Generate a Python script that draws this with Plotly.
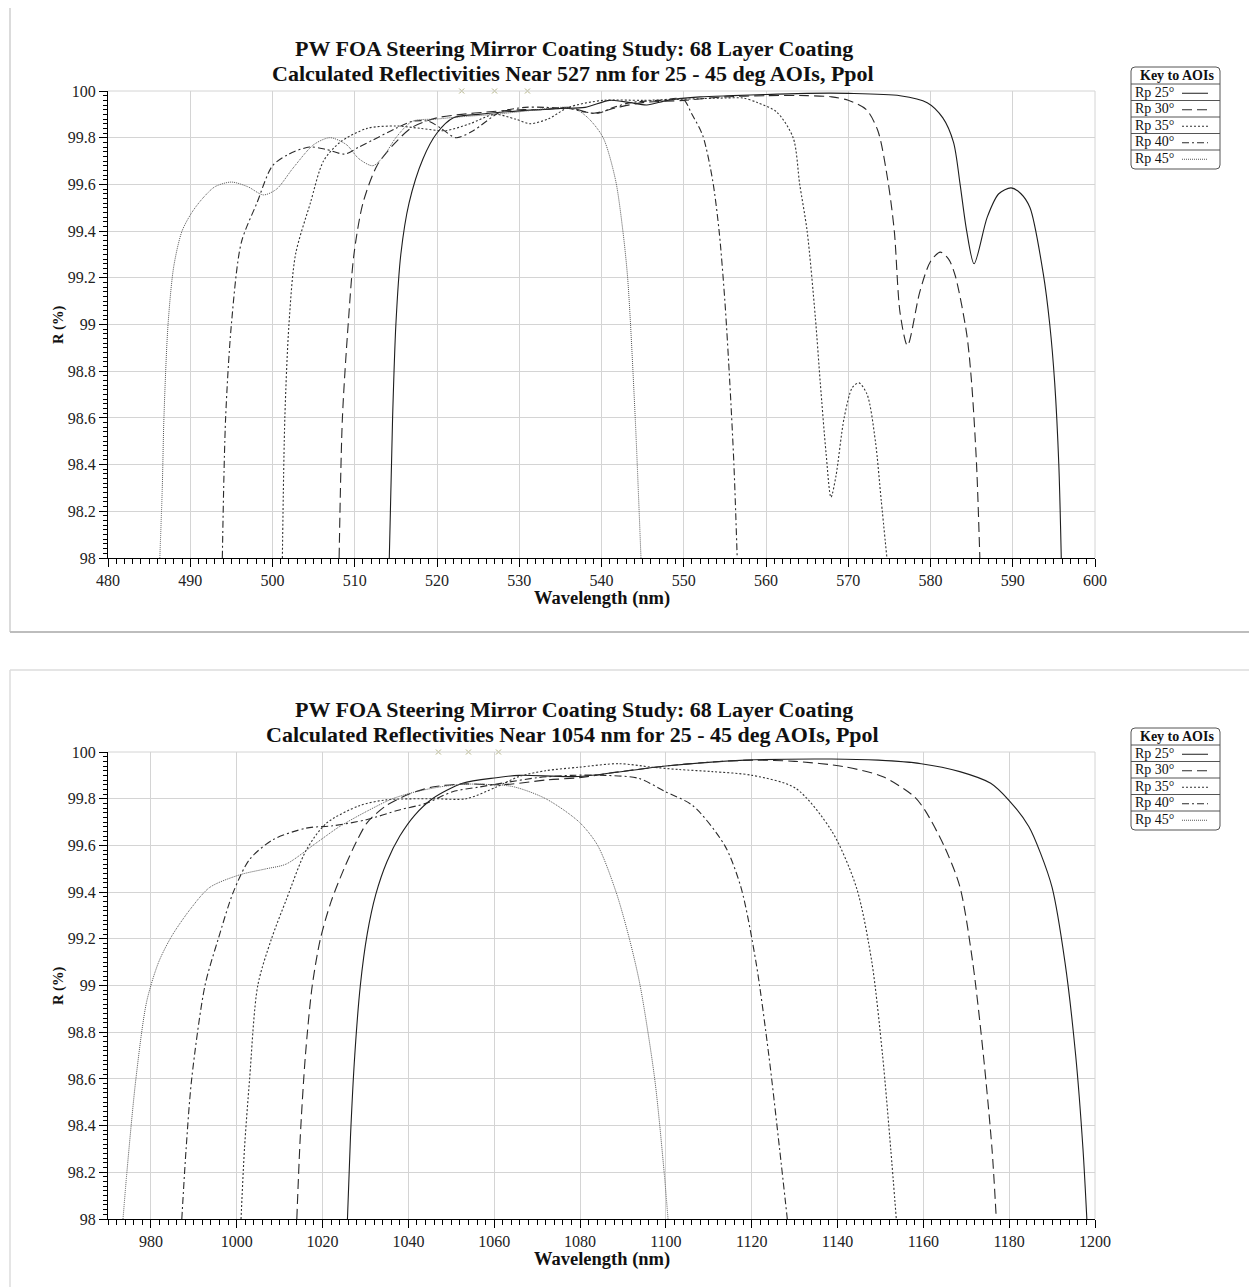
import plotly.graph_objects as go

# page body has an 8px margin; the figure is sized/offset so it lands on the 1257x1287 window
SHIFT = 8
W, H = 1257 - SHIFT, 1287 - SHIFT

# ---------------- data: 527 nm design (top) ----------------
top_wl_25 = [514.2, 514.6, 515.0, 515.6, 516.6, 518.3, 520.0, 522.0, 525, 530, 535, 538, 541, 543.5, 545.5, 548, 552, 556, 560, 565, 570, 576.3, 579.6, 581.5, 582.8, 583.6, 584.4, 585.3, 586.9, 588.3, 589.8, 591, 592.1, 593.7, 594.5, 595.1, 595.6, 595.9]
top_r_25 = [98.0, 98.6, 99.0, 99.3, 99.52, 99.71, 99.82, 99.885, 99.9, 99.915, 99.925, 99.93, 99.96, 99.95, 99.94, 99.96, 99.975, 99.98, 99.985, 99.99, 99.99, 99.98, 99.95, 99.885, 99.78, 99.60, 99.40, 99.26, 99.46, 99.56, 99.585, 99.56, 99.50, 99.22, 99.0, 98.75, 98.4, 98.0]

top_wl_30 = [508.1, 508.5, 509.2, 509.9, 511.0, 512.7, 514.7, 517, 520, 523, 526, 530, 533, 536, 539, 542, 545, 550, 555, 560, 565, 568, 570, 572.2, 573.6, 574.8, 575.6, 576.3, 577.2, 578.7, 580, 581.2, 582.2, 583, 584.4, 585, 585.6, 586]
top_r_30 = [98.0, 98.6, 99.0, 99.3, 99.52, 99.68, 99.77, 99.845, 99.885, 99.9, 99.91, 99.92, 99.92, 99.93, 99.905, 99.93, 99.95, 99.96, 99.975, 99.98, 99.98, 99.975, 99.96, 99.92, 99.83, 99.62, 99.40, 99.05, 98.91, 99.14, 99.27, 99.31, 99.28, 99.21, 98.96, 98.75, 98.4, 98.0]

top_wl_35 = [501.2, 501.5, 502.0, 502.8, 504.6, 506.2, 508.2, 511.5, 515, 518, 521, 524, 527, 529.5, 531.3, 533.5, 536, 540.2, 545, 550, 555, 557.2, 559, 561.3, 563.3, 564.1, 565, 566, 566.6, 567.3, 567.9, 568.5, 569.5, 570.5, 571.3, 572.3, 573.3, 574, 574.7]
top_r_35 = [98.0, 98.6, 99.0, 99.3, 99.52, 99.70, 99.78, 99.84, 99.85, 99.84, 99.83, 99.86, 99.90, 99.88, 99.86, 99.88, 99.93, 99.96, 99.96, 99.965, 99.97, 99.97, 99.95, 99.91, 99.80, 99.60, 99.40, 99.03, 98.75, 98.45, 98.26, 98.35, 98.6, 98.73, 98.75, 98.7, 98.5, 98.25, 98.0]

top_wl_40 = [493.9, 494.3, 495.0, 496.2, 498.1, 500, 502, 504.5, 506.5, 508.8, 510.5, 512.2, 515, 517, 519, 520.5, 522.3, 524.4, 527.7, 530.7, 533, 536, 538, 539.6, 541.5, 543.5, 547, 549.9, 551.0, 552.3, 553.5, 554.3, 555.0, 555.6, 556.1, 556.5]
top_r_40 = [98.0, 98.6, 99.0, 99.35, 99.52, 99.68, 99.73, 99.76, 99.75, 99.73, 99.76, 99.79, 99.84, 99.87, 99.87, 99.84, 99.80, 99.83, 99.91, 99.93, 99.93, 99.925, 99.91, 99.905, 99.93, 99.95, 99.96, 99.965, 99.90, 99.81, 99.62, 99.40, 99.10, 98.75, 98.4, 98.0]

top_wl_45 = [486.3, 486.6, 486.8, 487.3, 488.0, 489.0, 490.2, 491.5, 493, 495, 497, 498.9, 500.5, 502.5, 505, 507, 509, 510.5, 512.2, 513.5, 515, 517, 520, 523, 527, 531, 535.3, 537, 538.5, 540.2, 541.7, 542.6, 543.2, 544.1, 544.8]
top_r_45 = [98.0, 98.3, 98.6, 99.0, 99.25, 99.4, 99.48, 99.54, 99.59, 99.61, 99.59, 99.555, 99.58, 99.67, 99.77, 99.80, 99.77, 99.71, 99.68, 99.72, 99.8, 99.87, 99.88, 99.89, 99.9, 99.915, 99.93, 99.92, 99.88, 99.80, 99.62, 99.40, 99.19, 98.6, 98.0]

top_marks_wl = [523, 527, 531]

# ---------------- data: 1054 nm design (bottom) ----------------
bot_wl_25 = [1025.8, 1026.5, 1027.5, 1028.8, 1030.4, 1032.4, 1035.0, 1038.0, 1041.5, 1045.6, 1052.6, 1060.5, 1065.8, 1079.8, 1100, 1118.6, 1138.6, 1149.5, 1159.5, 1168.5, 1175.7, 1180.1, 1184.6, 1187.3, 1190, 1193, 1195.5, 1197.2, 1198.1]
bot_r_25 = [98.0, 98.35, 98.7, 99.0, 99.22, 99.39, 99.53, 99.64, 99.73, 99.80, 99.866, 99.89, 99.9, 99.895, 99.94, 99.965, 99.97, 99.965, 99.95, 99.916, 99.866, 99.79, 99.68, 99.567, 99.42, 99.1, 98.7, 98.3, 98.0]

bot_wl_30 = [1014.0, 1014.8, 1016.0, 1017.6, 1019.5, 1022.0, 1025.0, 1028.0, 1030.5, 1034.8, 1040.2, 1045.6, 1052.6, 1060.5, 1064.2, 1072, 1079.8, 1089, 1100, 1110.7, 1120, 1130, 1141.6, 1150.6, 1157.8, 1160.4, 1164.9, 1168.5, 1171.5, 1174, 1176, 1177]
bot_r_30 = [98.0, 98.35, 98.7, 99.0, 99.2, 99.36, 99.5, 99.62, 99.70, 99.77, 99.82, 99.85, 99.863, 99.86, 99.863, 99.88, 99.89, 99.915, 99.94, 99.957, 99.965, 99.96, 99.937, 99.894, 99.81, 99.75, 99.595, 99.424, 99.1, 98.7, 98.3, 98.0]

bot_wl_35 = [1001.0, 1001.8, 1003.0, 1004.9, 1008.1, 1011.6, 1016.2, 1020.9, 1028.6, 1034.8, 1045.6, 1053.5, 1060.5, 1065.8, 1072, 1079.8, 1089, 1096.8, 1103, 1110.8, 1120.1, 1130.2, 1138.7, 1144.4, 1148, 1150.5, 1152.4, 1153.7]
bot_r_35 = [98.0, 98.3, 98.6, 99.0, 99.2, 99.37, 99.58, 99.695, 99.77, 99.795, 99.80, 99.80, 99.85, 99.895, 99.92, 99.935, 99.95, 99.935, 99.925, 99.916, 99.90, 99.845, 99.66, 99.42, 99.1, 98.7, 98.3, 98.0]

bot_wl_40 = [987.2, 988.2, 989.5, 992.6, 995.7, 999.2, 1003.0, 1008.4, 1016.2, 1022.4, 1030.2, 1037.9, 1044.1, 1050.3, 1056.5, 1063, 1070, 1078, 1086, 1093.7, 1099.9, 1106.3, 1113.7, 1117.5, 1121, 1124, 1126.5, 1128.3]
bot_r_40 = [98.0, 98.3, 98.6, 99.0, 99.2, 99.40, 99.54, 99.624, 99.674, 99.684, 99.71, 99.752, 99.78, 99.83, 99.85, 99.87, 99.89, 99.9, 99.9, 99.887, 99.83, 99.77, 99.60, 99.42, 99.1, 98.7, 98.3, 98.0]

bot_wl_45 = [973.5, 974.4, 976.5, 979.0, 981.8, 984.8, 989.1, 993.7, 1000.7, 1006.9, 1011.5, 1018.5, 1023.9, 1030.2, 1036.3, 1041.8, 1047.2, 1052.6, 1056.5, 1064.3, 1072, 1079.8, 1084.1, 1088.4, 1091.5, 1094, 1097.4, 1099.6, 1100.5]
bot_r_45 = [98.0, 98.2, 98.6, 98.93, 99.1, 99.21, 99.325, 99.42, 99.474, 99.50, 99.52, 99.61, 99.68, 99.745, 99.80, 99.83, 99.85, 99.862, 99.862, 99.852, 99.80, 99.70, 99.60, 99.4, 99.2, 99.0, 98.6, 98.2, 98.0]

bot_marks_wl = [1047, 1054, 1061]

legend_labels = ["Rp 25\u00b0", "Rp 30\u00b0", "Rp 35\u00b0", "Rp 40\u00b0", "Rp 45\u00b0"]
titles_line1 = "PW FOA Steering Mirror Coating Study: 68 Layer Coating"
titles_line2 = ["Calculated Reflectivities Near 527 nm for 25 - 45 deg AOIs, Ppol",
                "Calculated Reflectivities Near 1054 nm for 25 - 45 deg AOIs, Ppol"]

# ---------------- styles ----------------
FONT = "Liberation Serif"
styles = [
    dict(color="#1e1e1e", dash="solid", width=1.1),
    dict(color="#2a2a2a", dash="10px,5px", width=1.1),
    dict(color="#333333", dash="2px,2px", width=1.1),
    dict(color="#2a2a2a", dash="7px,3px,2px,3px", width=1.1),
    dict(color="#555555", dash="1px,1px", width=1.0),
]


def px(x):
    return (x - SHIFT) / W


def py(y):
    return 1 - (y - SHIFT) / H


fig = go.Figure()

panels = [
    dict(series=[(top_wl_25, top_r_25), (top_wl_30, top_r_30), (top_wl_35, top_r_35), (top_wl_40, top_r_40), (top_wl_45, top_r_45)],
         marks=top_marks_wl, xr=[480, 600], dtick=10, tick0=480, minor=1, off=0, ax=""),
    dict(series=[(bot_wl_25, bot_r_25), (bot_wl_30, bot_r_30), (bot_wl_35, bot_r_35), (bot_wl_40, bot_r_40), (bot_wl_45, bot_r_45)],
         marks=bot_marks_wl, xr=[970, 1200], dtick=20, tick0=980, minor=2, off=661, ax="2"),
]

annotations = []
shapes = []


def txt(x, y, text, size, **kw):
    d = dict(x=px(x), y=py(y), xref="paper", yref="paper", text=text, showarrow=False,
             xanchor="center", yanchor="middle", font=dict(family=FONT, size=size, color="#111"))
    d.update(kw)
    annotations.append(d)


for i, p in enumerate(panels):
    xa = "x" + p["ax"]
    ya = "y" + p["ax"]
    for (wl, r), st, name in zip(p["series"], styles, legend_labels):
        fig.add_trace(go.Scatter(x=wl, y=r, mode="lines", name=name, showlegend=False,
                                 line=dict(color=st["color"], dash=st["dash"], width=st["width"],
                                           shape="spline", smoothing=0.8),
                                 xaxis=xa, yaxis=ya, hoverinfo="skip"))
    fig.add_trace(go.Scatter(x=p["marks"], y=[100] * len(p["marks"]), mode="markers", showlegend=False,
                             marker=dict(symbol="x-thin-open", size=5, color="#b0b080",
                                         line=dict(color="#b0b080", width=1)),
                             cliponaxis=False, xaxis=xa, yaxis=ya, hoverinfo="skip"))

    off = p["off"]
    y_top = 91 + off
    y_bot = 558 + off
    axis_common = dict(showline=True, linecolor="black", linewidth=1, ticks="outside", ticklen=8,
                       tickcolor="black", showgrid=True, gridcolor="#d4d4d4", gridwidth=1, zeroline=False,
                       automargin=False, tickfont=dict(family=FONT, size=16, color="#222"))
    xkey = "xaxis" + p["ax"]
    ykey = "yaxis" + p["ax"]
    fig.update_layout(**{
        xkey: dict(axis_common, domain=[px(108), px(1095)], range=p["xr"], tick0=p["tick0"], dtick=p["dtick"],
                   anchor=ya, minor=dict(dtick=p["minor"], ticks="outside", ticklen=5, tickcolor="black", showgrid=False)),
        ykey: dict(axis_common, domain=[py(y_bot), py(y_top)], range=[98, 100], dtick=0.2, tick0=98,
                   anchor=xa, minor=dict(dtick=0.02, ticks="outside", ticklen=4, tickcolor="black", showgrid=False)),
    })
    txt(573.5, 48 + off, "<b>" + titles_line1 + "</b>", 22)
    txt(572.5, 73 + off, "<b>" + titles_line2[i] + "</b>", 22)
    txt(602, 598 + off, "<b>Wavelength (nm)</b>", 18.5)
    txt(58, 325 + off, "<b>R (%)</b>", 14.5, textangle=-90)
    # top & right border gridlines
    shapes.append(dict(type="line", xref="paper", yref="paper", x0=px(108), x1=px(1095), y0=py(y_top), y1=py(y_top),
                       line=dict(color="#d4d4d4", width=1)))
    shapes.append(dict(type="line", xref="paper", yref="paper", x0=px(1095), x1=px(1095), y0=py(y_bot), y1=py(y_top),
                       line=dict(color="#d4d4d4", width=1)))
    # custom legend
    lx0, lx1 = 1131, 1220
    ly0, ly1 = 67 + off, 169 + off
    rr = 4
    path = (f"M {px(lx0 + rr)},{py(ly0)} L {px(lx1 - rr)},{py(ly0)} Q {px(lx1)},{py(ly0)} {px(lx1)},{py(ly0 + rr)} "
            f"L {px(lx1)},{py(ly1 - rr)} Q {px(lx1)},{py(ly1)} {px(lx1 - rr)},{py(ly1)} "
            f"L {px(lx0 + rr)},{py(ly1)} Q {px(lx0)},{py(ly1)} {px(lx0)},{py(ly1 - rr)} "
            f"L {px(lx0)},{py(ly0 + rr)} Q {px(lx0)},{py(ly0)} {px(lx0 + rr)},{py(ly0)} Z")
    shapes.append(dict(type="path", xref="paper", yref="paper", path=path, line=dict(color="#555", width=1),
                       fillcolor="white", layer="below"))
    txt(1177, 75.5 + off, "<b>Key to AOIs</b>", 14)
    row_h = 16.5
    first_sep = 84 + off
    for k, (lab, st) in enumerate(zip(legend_labels, styles)):
        ysep = first_sep + k * row_h
        shapes.append(dict(type="line", xref="paper", yref="paper", x0=px(lx0), x1=px(lx1), y0=py(ysep), y1=py(ysep),
                           line=dict(color="#555", width=1)))
        yc = ysep + row_h / 2
        txt(1132.5, yc, lab, 14, xanchor="left")
        shapes.append(dict(type="line", xref="paper", yref="paper", x0=px(1182), x1=px(1208), y0=py(yc + 1), y1=py(yc + 1),
                           line=dict(color=st["color"], dash=st["dash"], width=1)))

# panel borders
shapes.append(dict(type="line", xref="paper", yref="paper", x0=px(10), x1=px(10), y0=py(632), y1=1,
                   line=dict(color="#cfcfcf", width=1.5)))
shapes.append(dict(type="line", xref="paper", yref="paper", x0=px(10), x1=1, y0=py(632), y1=py(632),
                   line=dict(color="#bdbdbd", width=2)))
shapes.append(dict(type="line", xref="paper", yref="paper", x0=px(10), x1=1, y0=py(670), y1=py(670),
                   line=dict(color="#dcdcdc", width=1.5)))
shapes.append(dict(type="line", xref="paper", yref="paper", x0=px(10), x1=px(10), y0=0, y1=py(670),
                   line=dict(color="#dcdcdc", width=1.5)))

fig.update_layout(width=W, height=H, margin=dict(l=0, r=0, t=0, b=0, autoexpand=False), paper_bgcolor="white",
                  plot_bgcolor="white", showlegend=False, annotations=annotations, shapes=shapes,
                  font=dict(family=FONT))

fig.write_html("out.html")
